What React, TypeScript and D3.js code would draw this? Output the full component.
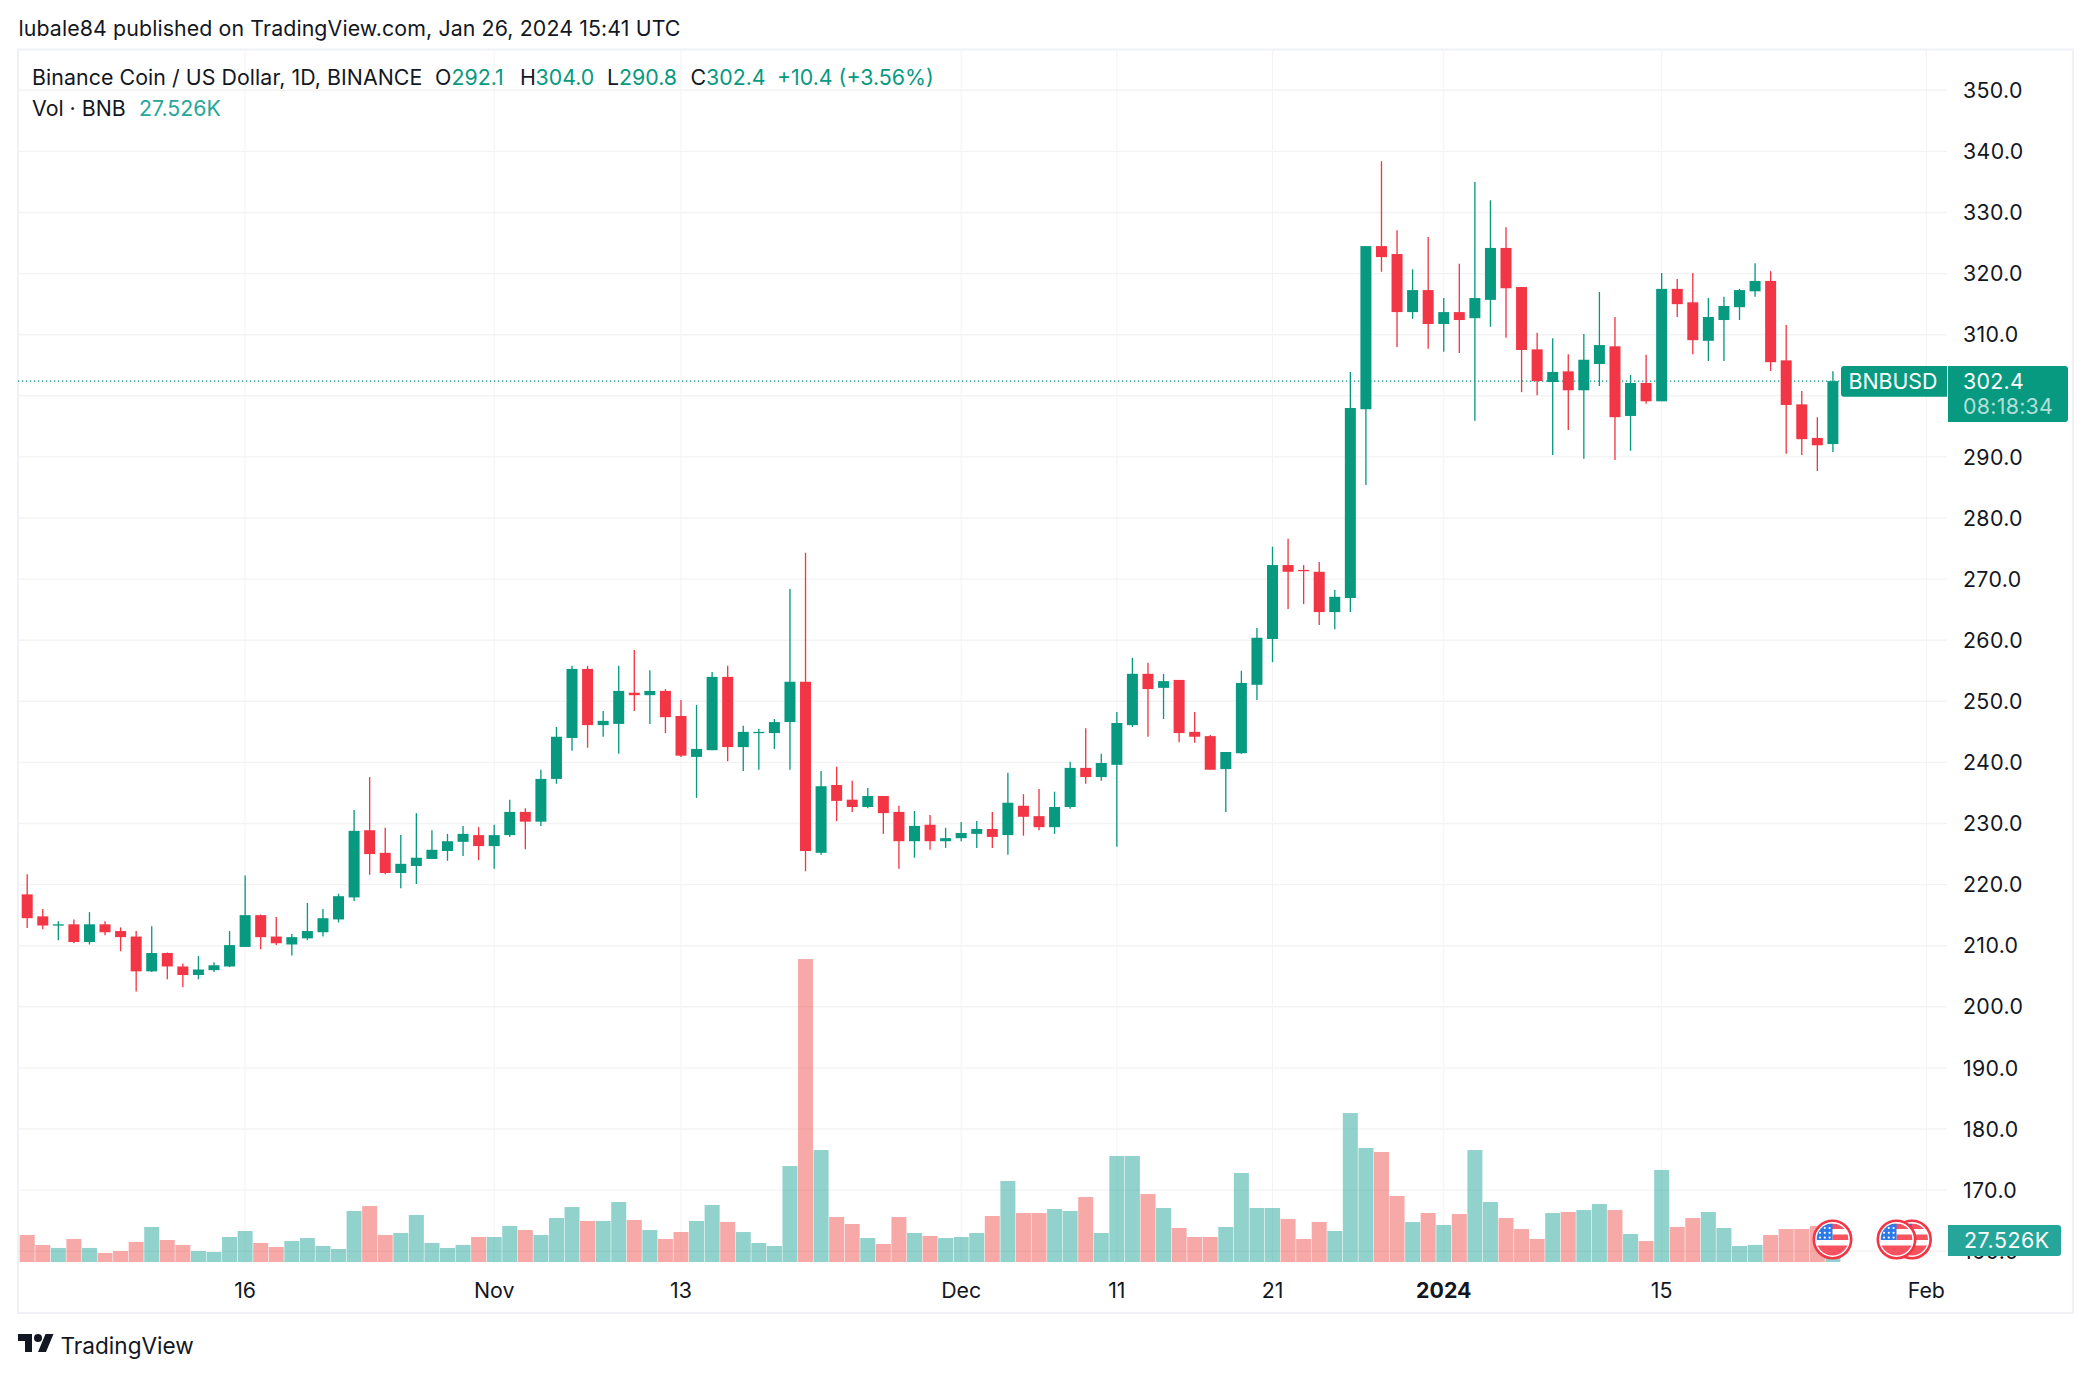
import React from "react";
import * as d3 from "d3";

const opens = [218.4,214.8,213.3,213.5,210.6,213.5,212.4,211.5,205.8,208.8,206.6,205.2,206.0,206.6,209.8,215.0,211.5,210.2,211.2,212.2,214.3,217.9,228.9,225.2,221.9,223.05,224.2,225.5,227.0,228.1,226.3,228.1,231.9,230.3,237.3,244.0,255.3,246.1,246.3,251.4,251.0,251.7,247.6,240.9,242.0,254.0,242.5,244.8,244.8,246.6,253.2,225.2,236.3,233.9,232.7,234.5,231.9,227.1,229.8,227.1,227.6,228.3,229.1,228.1,232.9,231.2,229.4,232.7,239.1,237.6,239.6,246.1,254.5,252.2,253.5,245.0,244.3,238.9,241.5,252.7,260.2,272.3,271.5,271.2,264.6,266.9,297.8,324.5,323.2,313.7,317.3,311.75,313.7,312.7,315.7,324.2,317.8,307.6,302.25,304.0,300.9,305.2,308.1,296.7,302.1,299.1,317.5,315.3,309.0,312.4,314.5,317.1,318.8,305.8,298.6,293.1,292.1];
const highs = [221.7,216.0,214.0,214.3,215.5,214.0,213.0,212.4,213.2,208.9,207.1,208.3,207.3,212.4,221.5,215.1,214.7,211.9,217.0,216.0,218.5,232.2,237.6,229.3,228.1,231.7,228.9,228.3,229.6,229.4,229.8,233.9,232.5,238.8,245.8,255.8,255.8,248.4,255.8,258.4,255.1,252.0,250.2,249.4,254.8,255.8,246.0,245.5,247.1,268.4,274.3,238.6,239.3,237.0,235.8,234.5,232.9,232.05,231.4,229.3,230.25,230.4,231.9,238.3,234.8,235.65,235.2,240.1,245.6,241.4,248.25,257.1,256.3,254.5,253.5,248.25,244.5,241.7,255.0,262.0,275.3,276.6,272.3,272.8,268.2,303.9,324.5,338.4,327.1,320.7,326.0,316.0,321.6,335.0,332.0,327.6,317.8,310.3,309.4,306.8,310.1,317.0,312.9,303.4,306.7,320.1,319.1,320.1,316.0,316.2,317.5,321.7,320.4,311.6,300.8,296.5,304.0];
const lows = [212.9,212.7,210.9,210.4,210.2,211.7,209.1,202.5,205.7,204.5,203.2,204.5,205.7,206.5,209.8,209.4,210.1,208.4,210.9,211.5,213.8,217.3,221.6,221.7,219.4,220.1,224.2,223.9,224.7,224.0,222.6,227.8,225.8,229.6,236.5,241.9,242.4,244.2,241.4,248.4,246.3,244.8,240.9,234.2,242.0,240.2,238.6,238.8,242.2,238.8,222.2,224.9,230.4,231.9,232.5,228.3,222.6,224.4,225.7,226.0,227.1,226.0,226.0,224.9,228.0,228.9,228.3,232.4,236.5,237.0,226.2,245.8,244.2,247.1,243.3,243.2,238.8,231.9,241.4,250.2,256.4,265.1,265.9,262.5,261.8,264.6,285.4,320.3,308.0,312.6,307.7,307.2,307.0,295.9,311.3,309.5,300.6,300.1,290.3,294.4,289.7,301.6,289.5,291.0,298.7,299.1,312.9,306.8,305.7,305.7,312.4,316.2,304.05,290.5,290.3,287.7,290.8];
const closes = [214.5,213.3,213.5,210.6,213.5,212.2,211.4,205.8,208.8,206.6,205.2,206.1,206.8,210.1,215.0,211.4,210.4,211.4,212.4,214.5,218.1,228.8,225.0,221.9,223.4,224.4,225.7,227.1,228.3,226.3,228.1,231.9,230.3,237.3,244.2,255.3,246.1,246.8,251.7,251.0,251.7,247.4,241.1,242.2,254.0,242.5,245.0,245.0,246.6,253.2,225.5,236.1,233.7,232.7,234.5,231.7,227.1,229.6,227.1,227.6,228.45,229.1,227.8,233.4,231.1,229.4,232.7,239.1,237.6,239.9,246.45,254.5,252.0,253.3,244.8,244.2,238.8,241.7,253.0,260.4,272.3,271.2,271.3,264.6,267.1,298.0,324.5,322.7,313.7,317.3,311.75,313.7,312.4,316.0,324.2,317.6,307.5,302.4,303.9,300.9,305.9,308.3,296.5,302.1,299.1,317.5,315.0,309.1,312.9,314.7,317.3,318.8,305.5,298.5,292.9,291.9,302.4];
const volumes = [34.2,21.6,17.8,29.2,17.8,11.4,13.9,25.4,44.4,27.9,21.6,13.9,12.7,31.7,39.3,24.1,19.0,26.6,30.4,20.3,16.5,64.7,71.0,34.2,36.8,59.6,24.1,17.8,21.6,31.7,31.7,45.7,40.6,34.2,55.8,69.7,52.0,52.0,76.1,53.3,40.6,29.2,38.0,52.0,72.3,50.7,38.0,24.1,20.3,121.7,384.2,142.0,57.1,48.2,30.4,22.8,57.1,36.8,33.0,30.4,31.7,36.8,58.3,102.7,62.1,62.1,67.2,64.7,82.4,36.8,134.4,134.4,86.2,68.5,43.1,31.7,31.7,44.4,112.9,68.5,68.5,54.5,29.2,50.7,39.3,188.9,144.6,139.5,83.7,50.7,62.1,46.9,60.9,142.0,76.1,55.8,41.8,29.2,62.1,63.4,65.9,73.5,65.9,35.5,26.6,116.7,44.4,55.8,63.4,43.1,20.3,21.6,34.2,41.8,41.8,45.7,27.526];
const priceTicks = [350,340,330,320,310,300,290,280,270,260,250,240,230,220,210,200,190,180,170,160];
const hiddenPriceLabels = [300];
const timeTickIndex = [14,30,42,60,70,80,91,105,122];
const timeTickLabel = ["16","Nov","13","Dec","11","21","2024","15","Feb"];
const headerName = "Binance Coin / US Dollar, 1D, BINANCE";
const lastPrice = 302.4;

const UP = "#089981", DOWN = "#F23645", TXT = "#131722", GRID = "#f3f3f4", BORDER = "#f0f1f7";
const FONT = "Inter, 'Noto Sans', sans-serif";
const FS = 21.33;

const xScale = d3.scaleLinear().domain([0, 116]).range([27.2, 1832.9]);
const yScale = d3.scaleLinear().domain([160, 350]).range([1251.2, 90.3]);
const volScale = d3.scaleLinear().domain([0, 400]).range([1262, 946.6]);

const L = 18, R = 1947, T = 49, B = 1262, PR = 2073, PB = 1313;

function Flag({ cx, cy }: { cx: number; cy: number }) {
  const id = `clip${cx}`;
  return (
    <g>
      <clipPath id={id}><circle cx={cx} cy={cy} r={16} /></clipPath>
      <circle cx={cx} cy={cy} r={18.7} fill="#fff" stroke="#F23645" strokeWidth={2.6} />
      <g clipPath={`url(#${id})`}>
        <rect x={cx - 16} y={cy - 16} width={32} height={5.5} fill="#F7525F" />
        <rect x={cx} y={cy - 5} width={16} height={5.5} fill="#F7525F" />
        <rect x={cx - 16} y={cy + 6} width={32} height={11} fill="#F7525F" />
        <rect x={cx - 16} y={cy - 16} width={16} height={16.5} fill="#2D7BEA" />
        {[0, 1, 2].map(r => [0, 1, 2].map(c => (
          <circle key={`${r}${c}`} cx={cx - 12.5 + c * 4.8} cy={cy - 11.5 + r * 4.8} r={1.1} fill="#fff" />
        )))}
      </g>
    </g>
  );
}

export default function App() {
  const n = closes.length;
  return (
    <svg width={2091} height={1376} viewBox="0 0 2091 1376"
      style={{ position: "fixed", left: 0, top: 0, background: "#fff" }} fontFamily={FONT}>
      <text x={18.5} y={36} fontSize={FS} letterSpacing={0.11} fill={TXT}>lubale84 published on TradingView.com, Jan 26, 2024 15:41 UTC</text>

      <rect x={18} y={49.5} width={PR - 18} height={PB - 49.5} fill="#fff" stroke={BORDER} strokeWidth={2} />

      {priceTicks.map(p => (
        <line key={p} x1={L} x2={R} y1={yScale(p)} y2={yScale(p)} stroke={GRID} strokeWidth={1.4} />
      ))}
      {timeTickIndex.map(i => (
        <line key={i} x1={xScale(i)} x2={xScale(i)} y1={T + 1} y2={B} stroke={GRID} strokeWidth={1} />
      ))}

      {volumes.map((v, i) => (
        <rect key={i} x={xScale(i) - 7.5} width={15} y={volScale(v)} height={B - volScale(v)}
          fill={closes[i] >= opens[i] ? "#26a69a" : "#ef5350"} fillOpacity={0.5} />
      ))}

      <line x1={L} x2={1841} y1={yScale(lastPrice)} y2={yScale(lastPrice)} stroke={UP} strokeWidth={1.33} strokeDasharray="1.33 2.67" />

      {d3.range(n).map(i => {
        const c = closes[i] >= opens[i] ? UP : DOWN;
        const top = yScale(Math.max(opens[i], closes[i]));
        const bot = yScale(Math.min(opens[i], closes[i]));
        return (
          <g key={i}>
            <line x1={xScale(i)} x2={xScale(i)} y1={yScale(highs[i])} y2={yScale(lows[i])} stroke={c} strokeWidth={1.33} />
            <rect x={xScale(i) - 5.5} width={11} y={top} height={Math.max(bot - top, 1.3)} fill={c} />
          </g>
        );
      })}

      <Flag cx={1912} cy={1239.5} />
      <Flag cx={1896.5} cy={1239.5} />
      <Flag cx={1832.5} cy={1239.5} />

      {priceTicks.filter(p => !hiddenPriceLabels.includes(p)).map(p => (
        <text key={p} x={1963} y={yScale(p)} dy="0.36em" fontSize={FS} letterSpacing={0.35} fill={TXT}>{p.toFixed(1)}</text>
      ))}

      {timeTickIndex.map((i, k) => (
        <text key={i} x={xScale(i)} y={1298} textAnchor="middle" fontSize={FS}
          fontWeight={timeTickLabel[k] === "2024" ? 700 : 400} fill={TXT}>{timeTickLabel[k]}</text>
      ))}

      <g fontSize={FS}>
        <text x={32} y={85} letterSpacing={0.07} fill={TXT}>{headerName}</text>
        <text x={435} y={85} fill={TXT}>O</text>
        <text x={451.5} y={85} fill={UP}>292.1</text>
        <text x={520} y={85} fill={TXT}>H</text>
        <text x={535.5} y={85} fill={UP}>304.0</text>
        <text x={607} y={85} fill={TXT}>L</text>
        <text x={619} y={85} fill={UP}>290.8</text>
        <text x={690.5} y={85} fill={TXT}>C</text>
        <text x={706} y={85} fill={UP}>302.4</text>
        <text x={777} y={85} fill={UP}>+10.4 (+3.56%)</text>
        <text x={32} y={116} fill={TXT}>Vol · BNB</text>
        <text x={139} y={116} fill="#26a69a">27.526K</text>
      </g>

      <path d="M1844 366H1947V396.7H1844a3 3 0 0 1 -3 -3V369a3 3 0 0 1 3 -3Z" fill={UP} />
      <text x={1848.5} y={381.5} dy="0.36em" fontSize={FS} fill="#fff">BNBUSD</text>
      <path d="M1948 366H2065a3 3 0 0 1 3 3V419a3 3 0 0 1 -3 3H1948Z" fill={UP} />
      <text x={1963} y={381.5} dy="0.36em" fontSize={FS} letterSpacing={0.3} fill="#fff">302.4</text>
      <text x={1963} y={406.5} dy="0.36em" fontSize={FS} letterSpacing={0.3} fill="#fff" fillOpacity={0.7}>08:18:34</text>
      <path d="M1948 1225H2058a3 3 0 0 1 3 3V1253a3 3 0 0 1 -3 3H1948Z" fill="#26a69a" />
      <text x={1964} y={1240.5} dy="0.36em" fontSize={FS} letterSpacing={0.55} fill="#fff">27.526K</text>

      <g transform="translate(18,1330)" fill={TXT}>
        <path d="M14 22H7V11H0V4h14v18zM28 22h-8l7.5-18h8L28 22z" />
        <circle cx={20} cy={8} r={4} />
      </g>
      <text x={60.5} y={1354} fontSize={22.6} fill={TXT}>TradingView</text>
    </svg>
  );
}
